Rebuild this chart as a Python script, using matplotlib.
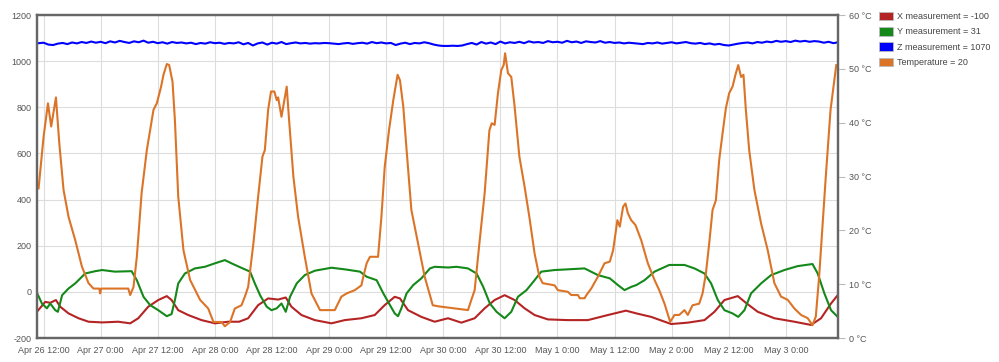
import datetime as dt

import matplotlib
matplotlib.use("Agg")
import matplotlib.pyplot as plt
import numpy as np
from matplotlib.patches import Patch

plt.rcParams["font.family"] = ["Liberation Sans", "DejaVu Sans"]
plt.rcParams["axes.unicode_minus"] = False

# hours counted from Apr 26 12:00
start = dt.datetime(2024, 4, 26, 12, 0)

x_hours = [-1.4, 0.35, 1.4, 2.6, 3.5, 5.25, 7.35, 9.45, 12.3, 15.7, 18.2, 19.9, 22.0,
           24.1, 25.9, 26.9, 28.3, 30.4, 33.2, 36.0, 38.8, 41.1, 43.0, 45.1, 47.2,
           49.3, 50.9, 52.1, 54.2, 57.0, 60.5, 63.3, 66.8, 69.6, 71.7, 73.8, 74.9,
           76.6, 79.4, 82.2, 85.0, 87.8, 90.6, 92.7, 94.8, 96.9, 99.0, 101.1, 103.2,
           106.0, 110.2, 114.4, 118.6, 122.4, 124.6, 127.7, 131.9, 135.4, 138.9,
           141.0, 143.1, 145.9, 147.6, 150.1, 153.6, 157.8, 161.3, 163.4, 165.5, 166.9]
x_values = [-86, -43, -47, -35, -64, -93, -114, -129, -132, -129, -136, -114, -64,
            -35, -18, -35, -79, -100, -122, -136, -129, -129, -114, -57, -28,
            -33, -24, -64, -100, -122, -136, -122, -114, -100, -57, -21, -28,
            -79, -108, -129, -114, -133, -114, -71, -35, -14, -35, -71, -100,
            -119, -122, -122, -100, -81, -93, -108, -139, -133, -122,
            -86, -35, -18, -47, -86, -114, -129, -143, -114, -50, -14]

y_hours = [-1.4, -0.35, 0.7, 1.4, 2.45, 3.0, 3.9, 5.25, 6.65, 8.75, 10.85, 12.3, 15.0,
           18.5, 19.6, 21.0, 22.4, 24.1, 25.9, 26.9, 27.6, 28.3, 29.7, 31.8, 33.9,
           36.0, 38.1, 39.5, 41.1, 43.4, 44.4, 45.5, 46.9, 47.9, 49.0, 50.0, 50.9,
           51.8, 53.2, 54.9, 57.0, 60.5, 63.3, 66.5, 67.9, 70.0, 71.4, 72.8, 73.8,
           74.5, 75.2, 76.3, 77.7, 79.4, 81.2, 82.2, 85.0, 86.8, 89.2, 91.0, 92.4,
           93.8, 95.2, 96.9, 98.3, 99.7, 101.5, 103.2, 104.6, 107.4, 110.2, 113.7,
           116.5, 119.0, 120.7, 122.1, 123.5, 124.6, 126.3, 128.4, 131.5, 134.7,
           136.8, 138.9, 140.3, 141.7, 143.1, 144.8, 146.0, 147.3, 148.7, 150.8,
           152.9, 155.7, 158.5, 161.6, 162.7, 164.1, 165.5, 166.9]
y_values = [-3, -50, -71, -50, -79, -86, -14, 15, 37, 80, 90, 95, 88,
            90, 51, -21, -57, -79, -105, -96, -35, 37, 80, 102, 109,
            124, 138, 124, 109, 88, 37, -14, -64, -79, -71, -50, -86,
            -21, 37, 73, 92, 105, 98, 88, 66, 51, -6, -57, -93,
            -105, -71, -6, 30, 59, 102, 109, 106, 109, 102, 80, 22,
            -50, -86, -114, -86, -21, 8, 51, 88, 95, 98, 102,
            73, 59, 30, 8, 22, 30, 51, 88, 117, 117,
            102, 80, 37, -35, -79, -93, -108, -79, -6, 37,
            73, 95, 112, 121, 80, -6, -79, -108]

z_values = [1078, 1080, 1072, 1070, 1076, 1079, 1074, 1081, 1077, 1083, 1079, 1085,
            1080, 1084, 1078, 1086, 1081, 1088, 1083, 1079, 1086, 1082, 1089, 1080, 1084,
            1078, 1082, 1076, 1083, 1079, 1081, 1077, 1080, 1074, 1079, 1076, 1082,
            1078, 1080, 1075, 1079, 1077, 1082, 1073, 1079, 1068, 1077, 1081, 1072,
            1080, 1076, 1083, 1074, 1078, 1081, 1077, 1079, 1076, 1078, 1077, 1079,
            1078, 1076, 1074, 1077, 1079, 1075, 1078, 1080, 1076, 1083, 1078, 1081,
            1077, 1079, 1070, 1076, 1080, 1074, 1079, 1077, 1082, 1078, 1072, 1068,
            1066, 1066, 1067, 1066, 1068, 1074, 1079, 1072, 1083, 1076, 1081, 1074,
            1085, 1077, 1082, 1079, 1084, 1078, 1086, 1081, 1083, 1079, 1087, 1082,
            1084, 1080, 1088, 1082, 1085, 1079, 1086, 1083, 1081, 1087, 1080, 1083,
            1079, 1081, 1077, 1080, 1078, 1076, 1074, 1079, 1077, 1081, 1076, 1079,
            1082, 1077, 1080, 1083, 1078, 1076, 1079, 1074, 1077, 1072, 1075, 1070,
            1068, 1072, 1076, 1079, 1081, 1077, 1083, 1080, 1085, 1082, 1088, 1084,
            1087, 1083, 1089, 1085, 1088, 1084, 1087, 1085, 1080, 1084, 1078, 1082]
z_hours = np.arange(-1, -1 + len(z_values))

temp_hours = [-1.05, 0, 0.92, 1.6, 2.6, 3.3, 4.2, 5.25, 6.65, 8.05, 9.45, 10.5, 11.7,
              11.9, 12.1, 17.8, 18.2, 18.9, 19.6, 20.6, 21.7, 23.1, 23.8, 24.7, 25.2,
              25.9, 26.4, 27.1, 27.6, 28.3, 29.4, 30.8, 32.9, 34.6, 35.7, 37.4, 38.1,
              39.2, 40.2, 41.6, 42.3, 43.0, 44.1, 45.1, 46.0, 46.5, 47.2, 47.8, 48.5,
              49.0, 49.3, 50.0, 50.6, 51.1, 51.6, 52.5, 53.5, 54.9, 56.3, 58.1, 61.2,
              62.6, 63.7, 65.4, 66.8, 67.2, 67.9, 68.6, 70.3, 71.0, 71.7, 72.6, 73.5,
              74.4, 74.9, 75.6, 76.3, 77.3, 78.7, 80.1, 81.8, 83.0, 89.2, 89.9, 90.6,
              91.6, 92.7, 93.7, 94.2, 94.8, 95.5, 96.2, 96.7, 97.0, 97.6, 98.3, 99.0,
              100.0, 101.1, 102.1, 103.2, 104.2, 104.9, 107.4, 108.1, 110.2, 110.9,
              112.3, 112.7, 113.7, 114.1, 115.1, 116.5, 117.9, 119.0, 119.7, 120.6,
              121.1, 121.8, 122.3, 122.8, 123.5, 124.4, 125.6, 127.0, 128.4, 129.4,
              130.5, 131.7, 132.6, 133.6, 134.7, 135.4, 136.4, 137.8, 138.5, 139.2,
              139.9, 140.6, 141.3, 142.0, 142.7, 143.4, 144.1, 144.8, 145.5, 146.0,
              146.6, 147.1, 147.6, 148.3, 149.4, 150.8, 152.2, 153.6, 155.0, 156.4,
              157.8, 159.2, 160.6, 161.6, 162.3, 163.0, 163.7, 164.4, 165.4, 166.6]
temp_values = [27.8, 37.4, 43.6, 39.3, 44.7, 36.2, 27.5, 22.5, 18.2, 13.3, 10.2, 9.2, 9.2,
               8.3, 9.2, 9.2, 8.0, 9.5, 15.1, 26.9, 34.9, 42.4, 43.6, 46.7, 48.9,
               50.9, 50.7, 47.6, 40.5, 26.3, 16.3, 10.8, 7.1, 5.5, 3.0, 3.0, 2.2,
               3.0, 5.5, 6.1, 7.7, 9.5, 17.6, 26.3, 33.7, 34.9, 42.4, 45.8, 45.8,
               44.2, 44.7, 41.1, 44.2, 46.7, 40.5, 30.0, 22.5, 15.1, 8.3, 5.2, 5.2,
               7.7, 8.3, 8.9, 9.8, 11.4, 13.9, 15.1, 15.1, 22.5, 31.8, 38.6, 44.2,
               48.9, 47.9, 43.0, 34.9, 23.8, 17.6, 11.4, 6.1, 5.9, 5.2, 7.1, 8.9,
               17.6, 26.9, 38.6, 39.9, 39.6, 45.5, 49.8, 50.7, 52.9, 49.2, 48.5, 43.0,
               33.7, 28.1, 22.5, 15.7, 11.4, 10.2, 9.8, 8.9, 8.6, 8.0,
               8.0, 7.4, 7.4, 8.0, 9.2, 11.4, 13.9, 14.2, 16.3, 21.9,
               20.7, 24.4, 25.0, 23.2, 21.9, 21.0, 18.2, 13.9, 10.8, 8.9,
               6.4, 3.0, 4.3, 4.3, 5.2, 4.3, 6.1, 6.4, 8.3, 12.0,
               17.6, 23.8, 25.6, 33.1, 38.0, 42.7, 45.5, 46.7, 49.2, 50.7,
               48.5, 48.9, 42.4, 34.9, 27.5, 21.3, 16.3, 10.2, 7.7, 7.1,
               5.5, 4.3, 3.7, 2.4, 4.0, 11.4, 20.7, 30.0, 42.4, 50.7]

labels = ["X measurement = -100", "Y measurement = 31",
          "Z measurement = 1070", "Temperature = 20"]
colors = ["#b52424", "#14891a", "#0000ff", "#dc7428"]

fig = plt.figure(figsize=(9.99, 3.62), dpi=100)
ax = fig.add_axes([0.037, 0.066, 0.802, 0.8925])
ax2 = ax.twinx()

ax.plot(x_hours, x_values, color=colors[0], lw=1.5)
ax.plot(y_hours, y_values, color=colors[1], lw=1.5)
ax.plot(z_hours, z_values, color=colors[2], lw=1.5)
ax2.plot(temp_hours, temp_values, color=colors[3], lw=1.5)

ax.set_xlim(-1.39, 167.0)
ax.set_ylim(-200, 1200)
ax2.set_ylim(0, 60)

ticks = list(range(0, 157, 12))
tick_labels = []
for t in ticks:
    d = start + dt.timedelta(hours=t)
    tick_labels.append(f"{d:%b} {d.day} {d.hour}:{d:%M}")
ax.set_xticks(ticks)
ax.set_xticklabels(tick_labels)
ax.set_yticks(range(-200, 1201, 200))
ax2.set_yticks(range(0, 61, 10))
ax2.set_yticklabels([f"{v} °C" for v in range(0, 61, 10)])

fs = 6.5
ax.grid(True, color="#dddddd", lw=0.8)
ax.set_axisbelow(True)
ax.tick_params(axis="y", length=0, pad=4, labelsize=fs, labelcolor="#555555")
ax.tick_params(axis="x", length=0, pad=6, labelsize=fs, labelcolor="#555555")
ax2.tick_params(axis="y", length=5, color="#bbbbbb", pad=3, labelsize=fs,
                labelcolor="#555555")
for a in (ax, ax2):
    for s in a.spines.values():
        s.set_color("#666666")
        s.set_linewidth(1.6)

handles = [Patch(facecolor=c, edgecolor="#bbbbbb", lw=0.6) for c in colors]
fig.legend(handles=handles, labels=labels, loc="upper left",
           bbox_to_anchor=(0.872, 0.99), frameon=False, fontsize=fs,
           handlelength=1.5, handleheight=1.1, handletextpad=0.5,
           labelspacing=0.65, labelcolor="#444444")

fig.savefig("out.png", dpi=100)
